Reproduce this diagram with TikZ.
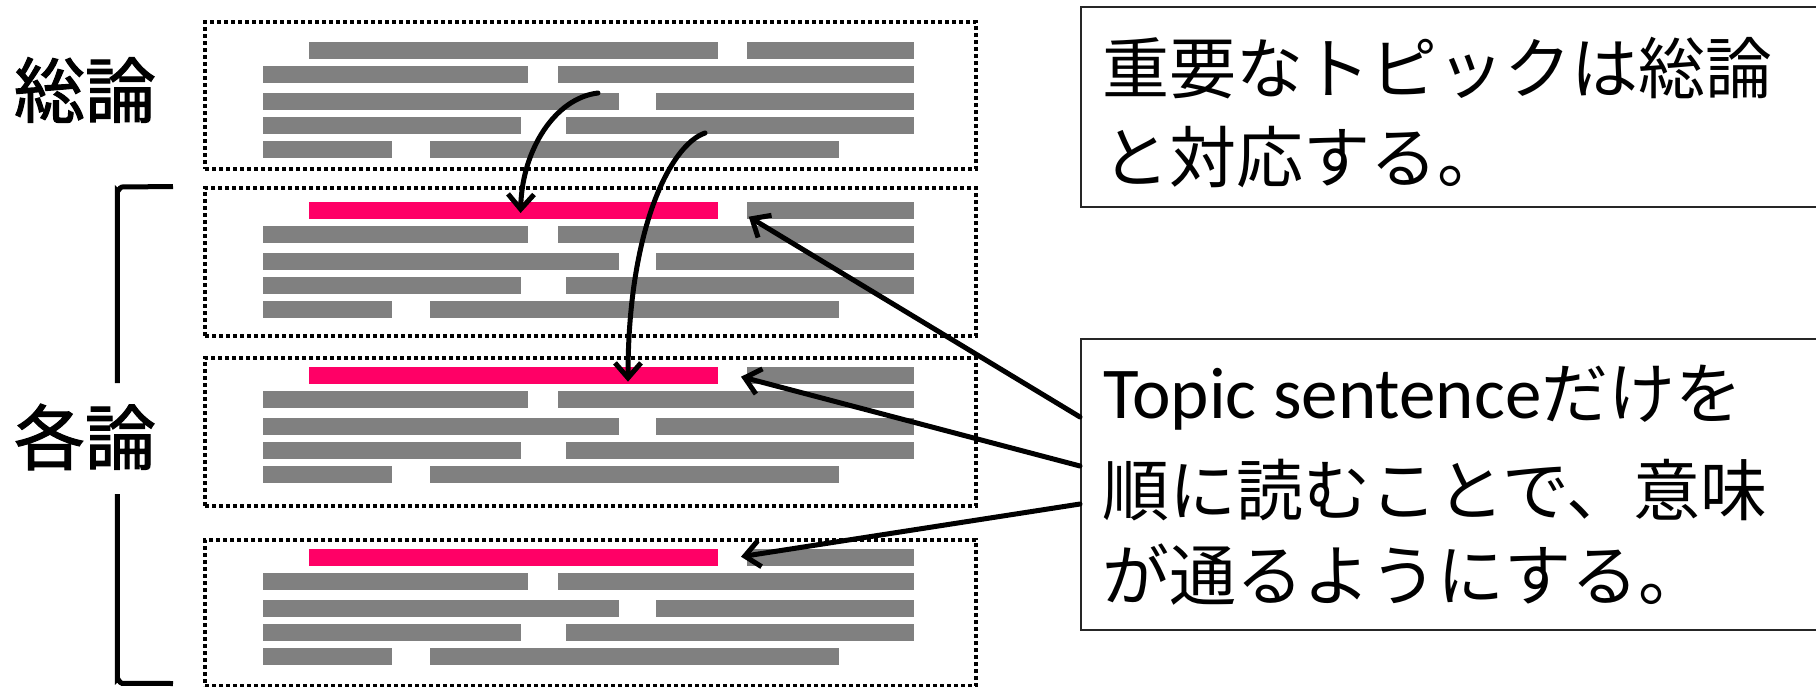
\documentclass[tikz,border=0pt]{standalone}
\usepackage{fontspec}
\newfontfamily\jp{Noto Sans CJK JP}
\newfontfamily\jpb[FakeBold=1.6]{Noto Sans CJK JP}
\newfontfamily\lat{Carlito}
\usetikzlibrary{arrows.meta}
\definecolor{barg}{HTML}{808080}
\definecolor{barp}{HTML}{FF0066}
\tikzset{
  secbox/.style={draw=black, line width=4pt, dash pattern=on 4pt off 3pt, inner sep=0pt, anchor=north west, minimum width=771pt},
  tbox/.style={draw=black!85, line width=2pt, inner sep=0pt, anchor=north west, minimum width=760pt},
  conn/.style={line width=5pt, line cap=round, -{Straight Barb[length=15pt,width=26pt,line width=5pt]}},
  brk/.style={line width=5pt},
  lbl/.style={inner sep=0pt, font=\jpb\fontsize{71}{71}\selectfont},
  jtxt/.style={inner sep=0pt, anchor=base west, font=\jp\fontsize{67}{67}\selectfont}
}
\newcommand\drawpara[2]{%
  \fill[#2]   (309,{#1})    rectangle (718,{#1+17});
  \fill[barg] (747,{#1})    rectangle (914,{#1+17});
  \fill[barg] (263,{#1+24}) rectangle (528,{#1+41});
  \fill[barg] (558,{#1+24}) rectangle (914,{#1+41});
  \fill[barg] (263,{#1+51}) rectangle (619,{#1+68});
  \fill[barg] (656,{#1+51}) rectangle (914,{#1+68});
  \fill[barg] (263,{#1+75}) rectangle (521,{#1+92});
  \fill[barg] (566,{#1+75}) rectangle (914,{#1+92});
  \fill[barg] (263,{#1+99}) rectangle (392,{#1+116});
  \fill[barg] (430,{#1+99}) rectangle (839,{#1+116});
}
\begin{document}
\begin{tikzpicture}[x=1pt,y=-1pt]
\useasboundingbox (0,0) rectangle (1816,686);
\fill[white] (0,0) rectangle (1816,686);

% paragraph boxes
\node[secbox, minimum height=147pt] (s1) at (203,20) {};
\node[secbox, minimum height=148pt] (s2) at (203,186) {};
\node[secbox, minimum height=148pt] (s3) at (203,356) {};
\node[secbox, minimum height=146pt] (s4) at (203,538) {};

\drawpara{41.7}{barg}
\drawpara{202}{barp}
\drawpara{367}{barp}
\drawpara{549}{barp}

% left labels and bracket
\node[lbl] (soron) at (85,90) {総論};
\node[lbl] (kakuron) at (85,437) {各論};
\draw[brk] (173,186.5) -- (122,187) to[out=180,in=-90] (117.3,191) -- (117.3,383);
\draw[brk] (117.3,494) -- (117.3,679) to[out=90,in=180] (122,683.3) -- (173,683.5);

% text boxes
\node[tbox, minimum height=200pt] (t1) at (1080,5.5) {};
\node[tbox, minimum height=291pt] (t2) at (1080,338) {};

\node[jtxt] (t1a) at (1102,93) {重要なトピックは総論};
\node[jtxt] (t1b) at (1102,182) {と対応する。};
\node[jtxt] (t2a) at (1103,418) {{\lat\fontsize{73}{73}\selectfont Topic sentence}だけを};
\node[jtxt] (t2b) at (1102,515) {順に読むことで、意味};
\node[jtxt] (t2c) at (1102,600) {が通るようにする。};

% connectors
\coordinate (aS) at (598,93);
\coordinate (aE) at (520.6,213);
\coordinate (bS) at (705,133);
\coordinate (bE) at (628,381.7);
\coordinate (cS) at (1080,417);
\coordinate (cE) at (748.7,216.7);
\coordinate (dS) at (1080,466);
\coordinate (dE) at (741,376.7);
\coordinate (eS) at (1080,504);
\coordinate (eE) at (741,556.7);

\draw[conn] (aS) .. controls (555,98) and (522,150) .. (aE);
\draw[conn] (bS) .. controls (670,145) and (628,230) .. (bE);
\draw[conn] (cS) -- (cE);
\draw[conn] (dS) -- (dE);
\draw[conn] (eS) -- (eE);
\end{tikzpicture}
\end{document}
